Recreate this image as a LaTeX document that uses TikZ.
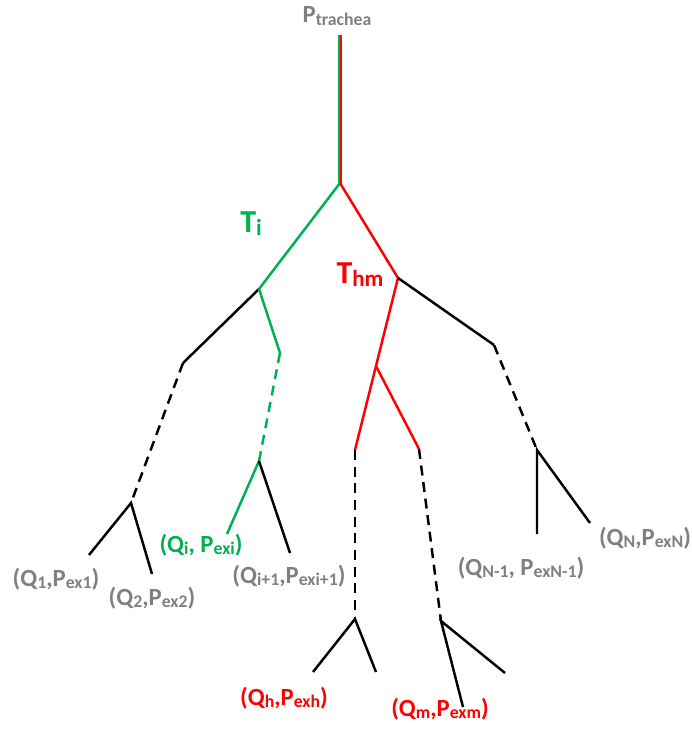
\documentclass[tikz,border=0pt]{standalone}
\usepackage{fontspec}
\setmainfont{Carlito}
\usetikzlibrary{positioning}

\definecolor{brgreen}{RGB}{0,176,80}
\definecolor{brred}{RGB}{255,0,0}
\definecolor{brgray}{RGB}{128,128,128}

% subscript scaled to the current font size
\makeatletter
\newcommand\lsub[1]{\raisebox{-0.12em}{\fontsize{\strip@pt\dimexpr0.72\dimexpr\f@size pt\relax\relax}{1em}\selectfont #1}}
\makeatother

\begin{document}
\begin{tikzpicture}[
x=0.75pt, y=-0.75pt,
branch/.style={line width=1.85pt},
dashbranch/.style={line width=1.85pt, dash pattern=on 7.5pt off 5pt},
qlabel/.style={anchor=base, inner sep=0pt, font=\fontsize{18.5}{22}\selectfont\bfseries},
tlabel/.style={anchor=base, inner sep=0pt, font=\fontsize{24}{28}\selectfont\bfseries}
]
\useasboundingbox (0,0) rectangle (692,735);

% branch points
\coordinate (top) at (340,35);
\coordinate (root) at (340,183);
\coordinate (gi) at (259,289);
\coordinate (rhm) at (398,278);
\coordinate (l1) at (183,363);
\coordinate (l1fork) at (131,503);
\coordinate (q1end) at (89,555);
\coordinate (q2end) at (152,574);
\coordinate (g2) at (280,353);
\coordinate (g2fork) at (259,461);
\coordinate (qiend) at (227,534);
\coordinate (qi1end) at (290,553);
\coordinate (r2) at (376,366);
\coordinate (rh) at (355,450);
\coordinate (rm) at (419,449);
\coordinate (hfork) at (355,619);
\coordinate (qh1end) at (313,672);
\coordinate (qh2end) at (376,672);
\coordinate (mfork) at (441,621);
\coordinate (qm1end) at (463,707);
\coordinate (qm2end) at (505,673);
\coordinate (rn) at (494,345);
\coordinate (nfork) at (537,450);
\coordinate (qn1end) at (537,534);
\coordinate (qnend) at (590,523);

% trachea
\draw[branch, brgreen, transform canvas={xshift=-0.9pt}] (top) -- (root);
\draw[branch, brred, transform canvas={xshift=0.9pt}] (top) -- (root);

% left part
\draw[branch, brgreen] (root) -- (gi);
\draw[branch] (gi) -- (l1);
\draw[dashbranch] (l1) -- (l1fork);
\draw[branch] (q1end) -- (l1fork) -- (q2end);
\draw[branch, brgreen] (gi) -- (g2);
\draw[dashbranch, brgreen] (g2) -- (g2fork);
\draw[branch, brgreen] (g2fork) -- (qiend);
\draw[branch] (g2fork) -- (qi1end);

% right part
\draw[branch, brred] (root) -- (rhm) -- (r2) -- (rh);
\draw[branch, brred] (r2) -- (rm);
\draw[dashbranch] (rh) -- (hfork);
\draw[branch] (qh1end) -- (hfork) -- (qh2end);
\draw[dashbranch] (rm) -- (mfork);
\draw[branch] (qm1end) -- (mfork) -- (qm2end);
\draw[branch] (rhm) -- (rn);
\draw[dashbranch] (rn) -- (nfork);
\draw[branch] (qn1end) -- (nfork) -- (qnend);

% labels
\node (ptrachea) [qlabel, brgray] at (337,23) {P\lsub{trachea}};
\node (ti) [tlabel, brgreen] at (251,232) {T\lsub{i}};
\node (thm) [tlabel, brred] at (360,283) {T\lsub{hm}};
\node (q1) [qlabel, brgray] at (56,586) {(Q\lsub{1},P\lsub{ex1})};
\node (q2) [qlabel, brgray] at (152,605) {(Q\lsub{2},P\lsub{ex2})};
\node (qi) [qlabel, brgreen] at (201,552) {(Q\lsub{i}, P\lsub{exi})};
\node (qi1) [qlabel, brgray] at (289,583) {(Q\lsub{i+1},P\lsub{exi+1})};
\node (qn1) [qlabel, brgray] at (521,575) {(Q\lsub{N-1}, P\lsub{exN-1})};
\node (qn) [qlabel, brgray] at (645,545) {(Q\lsub{N},P\lsub{exN})};
\node (qh) [qlabel, brred] at (284,705) {(Q\lsub{h},P\lsub{exh})};
\node (qm) [qlabel, brred] at (440,716) {(Q\lsub{m},P\lsub{exm})};

\end{tikzpicture}
\end{document}
